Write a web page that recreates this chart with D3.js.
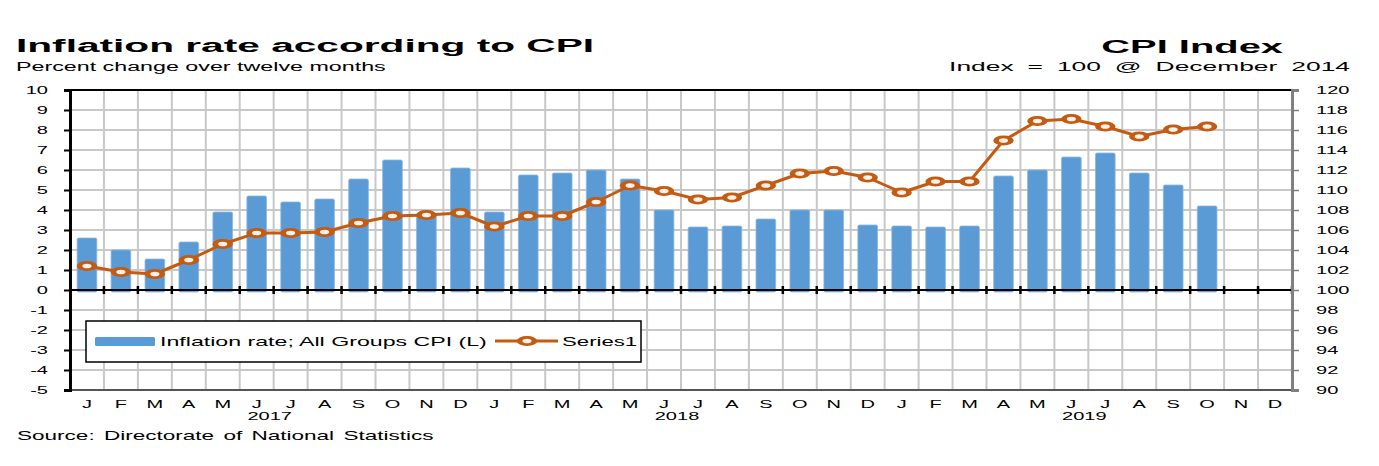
<!DOCTYPE html>
<html>
<head>
<meta charset="utf-8">
<script src="https://cdn.jsdelivr.net/npm/d3@7"></script>
<style>
  body { margin: 0; background: #fff; }
  svg { display: block; font-family: "Liberation Sans", Arial, sans-serif; }
</style>
</head>
<body>
<svg id="chart" width="1379" height="466"></svg>
<script>
// months Jan 2017 .. Dec 2019
const monthLetters = ['J','F','M','A','M','J','J','A','S','O','N','D'];
const years = [2017, 2018, 2019];
const inflation = [2.6, 2.0, 1.55, 2.4, 3.9, 4.7, 4.4, 4.55, 5.55, 6.5, 3.8, 6.1,
                   3.9, 5.75, 5.85, 6.0, 5.55, 4.0, 3.15, 3.2, 3.55, 4.0, 4.0, 3.25,
                   3.2, 3.15, 3.2, 5.7, 6.0, 6.65, 6.85, 5.85, 5.25, 4.2];
const cpi = [102.4, 101.8, 101.6, 103.0, 104.6, 105.7, 105.7, 105.8, 106.7, 107.4, 107.5, 107.7,
             106.35, 107.4, 107.4, 108.8, 110.45, 109.9, 109.05, 109.25, 110.45, 111.65, 111.9, 111.25,
             109.75, 110.85, 110.85, 114.95, 116.9, 117.1, 116.35, 115.35, 116.05, 116.35];
const leftTicks = d3.range(-5, 11);
const rightTicks = d3.range(90, 121, 2);

const keys = [];
years.forEach(y => monthLetters.forEach((m, i) => keys.push(y + '-' + i)));

const svg = d3.select('#chart');
const pLeft = 70, pRight = 1292, pTop = 90, pBottom = 390;

const x = d3.scaleBand().domain(keys).range([pLeft, pRight]).paddingInner(0.42).paddingOuter(0.21);
const yL = d3.scaleLinear().domain([-5, 10]).range([pBottom, pTop]);
const yR = d3.scaleLinear().domain([90, 120]).range([pBottom, pTop]);
const step = x.step();
const cx = k => x(k) + x.bandwidth() / 2;

// the original picture is stretched sideways, so texts get a horizontal scale
function wtext(X, Y, str, size, sx, anchor, weight) {
  return svg.append('text')
    .attr('transform', `translate(${X},${Y}) scale(${sx},1)`)
    .attr('text-anchor', anchor || 'start')
    .attr('font-size', size)
    .attr('font-weight', weight || 'normal')
    .attr('fill', '#000')
    .text(str);
}

// grid
const grid = svg.append('g');
grid.selectAll('.hg').data(leftTicks.slice(1, -1)).enter().append('line')
  .attr('x1', pLeft).attr('x2', pRight)
  .attr('y1', d => yL(d)).attr('y2', d => yL(d))
  .attr('stroke', '#c8c8c8').attr('stroke-width', 2);
grid.selectAll('.vg').data(d3.range(1, keys.length)).enter().append('line')
  .attr('x1', i => pLeft + i * step).attr('x2', i => pLeft + i * step)
  .attr('y1', pTop).attr('y2', pBottom)
  .attr('stroke', '#c8c8c8').attr('stroke-width', 2);

// bars
svg.append('g').selectAll('rect').data(inflation).enter().append('rect')
  .attr('x', (d, i) => x(keys[i]))
  .attr('y', d => yL(d))
  .attr('width', x.bandwidth())
  .attr('height', d => yL(0) - yL(d) + 2)
  .attr('rx', 1.5)
  .attr('fill', '#5b9bd5')
  .attr('stroke', '#8db6e2')
  .attr('stroke-width', 0.8);

// frame
svg.append('line').attr('x1', pLeft).attr('x2', pRight).attr('y1', pTop).attr('y2', pTop)
  .attr('stroke', '#000').attr('stroke-width', 2);
svg.append('line').attr('x1', pLeft).attr('x2', pRight).attr('y1', pBottom).attr('y2', pBottom)
  .attr('stroke', '#555').attr('stroke-width', 2);

// zero line with category ticks
svg.append('line').attr('x1', pLeft).attr('x2', pRight).attr('y1', yL(0)).attr('y2', yL(0))
  .attr('stroke', '#000').attr('stroke-width', 2);
svg.append('g').selectAll('line').data(d3.range(1, keys.length + 1)).enter().append('line')
  .attr('x1', i => pLeft + i * step).attr('x2', i => pLeft + i * step)
  .attr('y1', yL(0) - 4).attr('y2', yL(0) + 4)
  .attr('stroke', '#000').attr('stroke-width', 2.5);

// left axis
const axL = svg.append('g').attr('transform', `translate(${pLeft},0)`)
  .call(d3.axisLeft(yL).tickValues(leftTicks).tickSize(6).tickFormat(d => String(d)));
axL.select('.domain').attr('stroke', '#000').attr('stroke-width', 3);
axL.selectAll('.tick line').attr('stroke', '#000').attr('stroke-width', 2);
axL.selectAll('.tick text')
  .attr('x', 0).attr('dy', '0.36em')
  .attr('transform', 'translate(-22,0) scale(1.82,1)')
  .attr('font-size', 11).attr('fill', '#000')
  .attr('font-family', '"Liberation Sans", Arial, sans-serif');

// right axis
const axR = svg.append('g').attr('transform', `translate(${pRight},0)`)
  .call(d3.axisRight(yR).tickValues(rightTicks).tickSize(7));
axR.select('.domain').attr('stroke', '#808080').attr('stroke-width', 3);
axR.selectAll('.tick line').attr('stroke', '#808080').attr('stroke-width', 1.5);
axR.selectAll('.tick text')
  .attr('x', 0).attr('dy', '0.36em')
  .attr('transform', 'translate(24,0) scale(1.82,1)')
  .attr('font-size', 11).attr('fill', '#000')
  .attr('font-family', '"Liberation Sans", Arial, sans-serif');

// bottom axis: month letters
const axB = svg.append('g').attr('transform', `translate(0,${pBottom})`)
  .call(d3.axisBottom(x).tickSize(0).tickFormat(k => monthLetters[+k.split('-')[1]]));
axB.select('.domain').remove();
axB.selectAll('.tick text')
  .attr('y', 0).attr('dy', 0)
  .attr('transform', 'translate(0,18) scale(1.82,1)')
  .attr('font-size', 11).attr('fill', '#000')
  .attr('font-family', '"Liberation Sans", Arial, sans-serif');

years.forEach((yr, j) => {
  wtext(pLeft + (j * 12 + 6) * step - 4, 420, String(yr), 11, 1.82, 'middle');
});

// CPI line
const line = d3.line().x((d, i) => cx(keys[i])).y(d => yR(d));
svg.append('path').datum(cpi)
  .attr('d', line)
  .attr('fill', 'none')
  .attr('stroke', '#c55a11')
  .attr('stroke-width', 3)
  .attr('stroke-linejoin', 'round');

function marker(g, px, py) {
  g.append('g').attr('transform', `translate(${px},${py}) scale(2,1)`)
    .append('circle').attr('r', 3.7)
    .attr('fill', '#fdf1ea').attr('stroke', '#c55a11').attr('stroke-width', 2.8);
}
const mk = svg.append('g');
cpi.forEach((d, i) => marker(mk, cx(keys[i]), yR(d)));

// legend
const lg = svg.append('g');
lg.append('rect').attr('x', 86).attr('y', 321).attr('width', 555).attr('height', 41)
  .attr('fill', '#fff').attr('stroke', '#000').attr('stroke-width', 1.5);
lg.append('rect').attr('x', 95).attr('y', 337).attr('width', 60).attr('height', 9)
  .attr('rx', 1.5).attr('fill', '#5b9bd5');
lg.append('line').attr('x1', 495).attr('x2', 558).attr('y1', 341).attr('y2', 341)
  .attr('stroke', '#c55a11').attr('stroke-width', 3);
marker(lg, 527, 341);
wtext(160, 346, 'Inflation rate; All Groups CPI (L)', 12, 1.93);
wtext(562, 346, 'Series1', 12, 1.85);

// titles
wtext(16, 52, 'Inflation rate according to CPI', 19, 2.14, 'start', 'bold');
wtext(1283, 53, 'CPI Index', 19, 2.1, 'end', 'bold');
wtext(16, 71, 'Percent change over twelve months', 12, 1.94);
wtext(1350, 71, 'Index = 100 @ December 2014', 12, 2.2, 'end').attr('word-spacing', 3);
wtext(17, 440, 'Source: Directorate of National Statistics', 12, 1.88).attr('word-spacing', 1.6);
</script>
</body>
</html>
